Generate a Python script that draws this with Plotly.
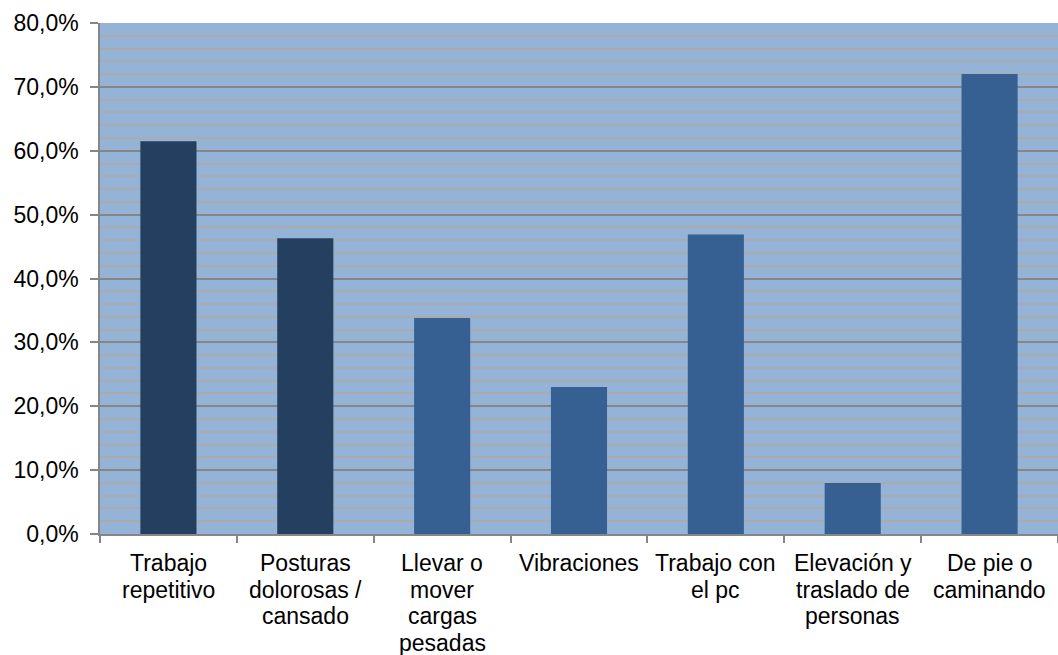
import plotly.graph_objects as go

categories = [
    "Trabajo<br>repetitivo",
    "Posturas<br>dolorosas /<br>cansado",
    "Llevar o<br>mover<br>cargas<br>pesadas",
    "Vibraciones",
    "Trabajo con<br>el pc",
    "Elevación y<br>traslado de<br>personas",
    "De pie o<br>caminando",
]
values = [61.5, 46.3, 33.8, 23.0, 46.9, 8.0, 72.0]
bar_colors = ["#243f60", "#243f60", "#366092", "#366092", "#366092", "#366092", "#366092"]

fig = go.Figure(
    go.Bar(
        x=categories,
        y=values,
        marker=dict(color=bar_colors, line=dict(width=0)),
        hoverinfo="skip",
    )
)

font_family = "Liberation Sans, Arial, sans-serif"
label_size = 23
line_step = 26.7   # tighter line spacing for the category labels
first_offset = 15

# Category labels, one text per line so the wrapped lines sit close together
annotations = []
for cat in categories:
    for i, line in enumerate(cat.split("<br>")):
        annotations.append(
            dict(
                x=cat,
                xref="x",
                y=0,
                yref="paper",
                yanchor="top",
                xanchor="center",
                yshift=-(first_offset + i * line_step),
                text=line,
                showarrow=False,
                borderpad=0,
                font=dict(size=label_size, family=font_family, color="#000000"),
            )
        )

fig.update_layout(
    width=1058,
    height=655,
    margin=dict(l=100, r=0, t=23, b=121, autoexpand=False),
    paper_bgcolor="white",
    plot_bgcolor="#95b3d7",
    bargap=0.59,
    separators=",.",
    showlegend=False,
    font=dict(family=font_family, size=label_size, color="#000000"),
    annotations=annotations,
)

fig.update_xaxes(
    automargin=False,
    showline=True,
    linecolor="#868686",
    linewidth=1.5,
    ticks="outside",
    tickson="boundaries",
    ticklen=7,
    tickwidth=1.5,
    tickcolor="#868686",
    showgrid=False,
    showticklabels=False,
)

fig.update_yaxes(
    automargin=False,
    range=[0, 80],
    dtick=10,
    tickformat=".1f",
    ticksuffix="%",
    showline=True,
    linecolor="#868686",
    linewidth=1.5,
    ticks="outside",
    ticklen=8,
    tickwidth=1.5,
    tickcolor="#868686",
    showgrid=True,
    gridcolor="#868686",
    gridwidth=1.8,
    zeroline=False,
    minor=dict(tick0=0, dtick=2, showgrid=True, gridcolor="#ababab", gridwidth=1.6, ticks=""),
    tickfont=dict(size=label_size),
    ticklabelstandoff=7,
)

fig.write_html("out.html")
